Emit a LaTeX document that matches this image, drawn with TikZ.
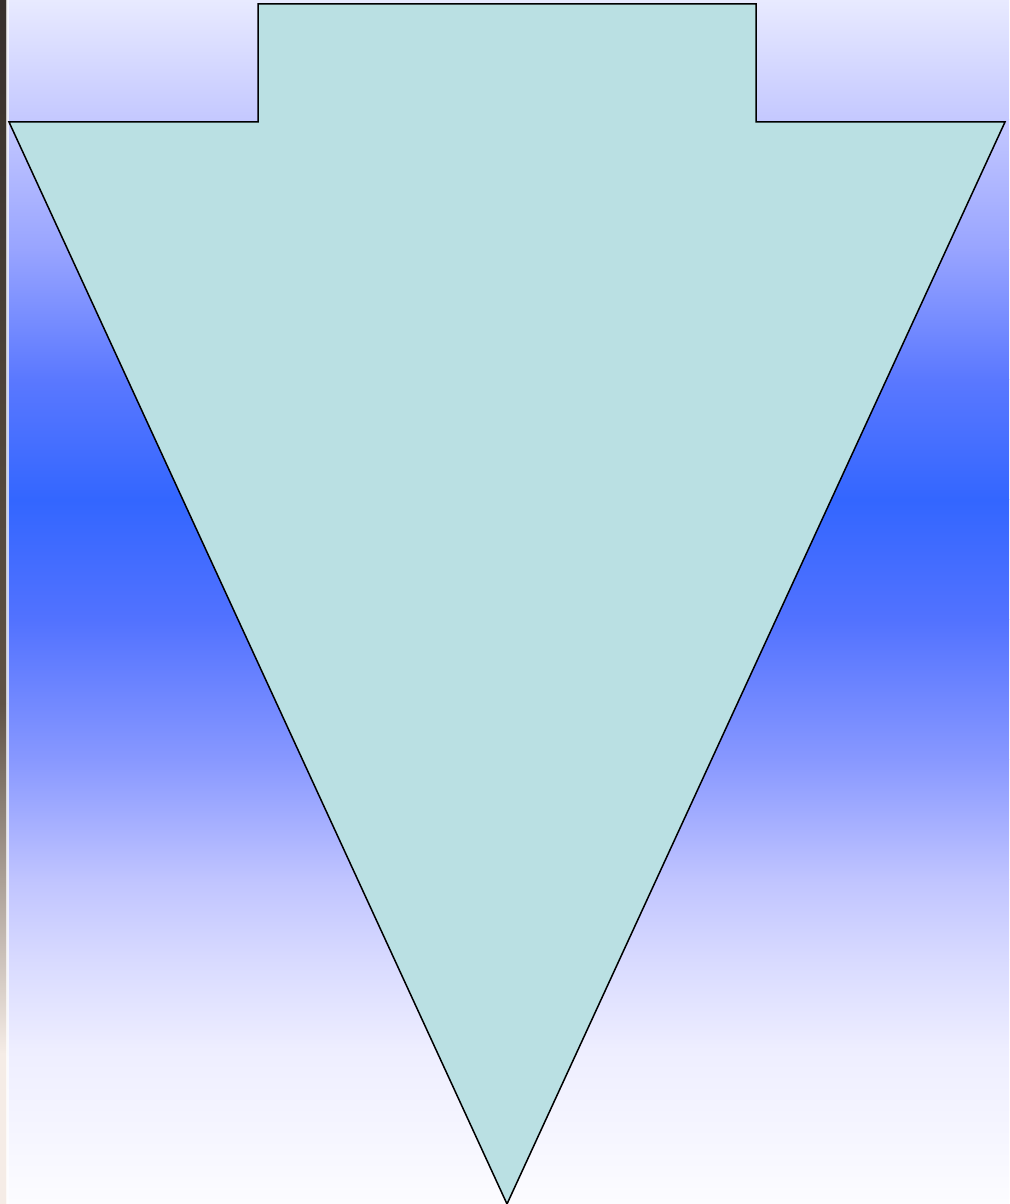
\documentclass[tikz,border=0pt]{standalone}
\usetikzlibrary{shadings}
\definecolor{bgA}{RGB}{232,234,255}
\definecolor{bgB}{RGB}{196,200,255}
\definecolor{bgC}{RGB}{152,164,255}
\definecolor{bgD}{RGB}{90,120,255}
\definecolor{bgE}{RGB}{51,102,255}
\definecolor{bgF}{RGB}{82,114,255}
\definecolor{bgG}{RGB}{136,152,255}
\definecolor{bgH}{RGB}{192,196,255}
\definecolor{bgI}{RGB}{216,218,255}
\definecolor{bgJ}{RGB}{238,238,255}
\definecolor{bgK}{RGB}{252,252,255}
\definecolor{arrowfill}{RGB}{186,224,227}
\definecolor{edgedark}{RGB}{55,48,44}
\definecolor{edgemid}{RGB}{95,82,70}
\definecolor{edgelight}{RGB}{245,236,230}
\tikzset{
  arrowshape/.style={fill=arrowfill, draw=black, line width=1.5pt, line join=miter}
}
\begin{document}
\begin{tikzpicture}[x=1pt,y=1pt]
\useasboundingbox (0,0) rectangle (1009,1204);
% background gradient (reference y measured from top)
\shade[top color=bgA, bottom color=bgB] (0,1204) rectangle (1009,1084);
\shade[top color=bgB, bottom color=bgC] (0,1084.5) rectangle (1009,954);
\shade[top color=bgC, bottom color=bgD] (0,954.5) rectangle (1009,824);
\shade[top color=bgD, bottom color=bgE] (0,824.5) rectangle (1009,704);
\shade[top color=bgE, bottom color=bgF] (0,704.5) rectangle (1009,584);
\shade[top color=bgF, bottom color=bgG] (0,584.5) rectangle (1009,444);
\shade[top color=bgG, bottom color=bgH] (0,444.5) rectangle (1009,324);
\shade[top color=bgH, bottom color=bgI] (0,324.5) rectangle (1009,244);
\shade[top color=bgI, bottom color=bgJ] (0,244.5) rectangle (1009,154);
\shade[top color=bgJ, bottom color=bgK] (0,154.5) rectangle (1009,0);
% left photo-like edge
\shade[top color=edgedark, bottom color=edgemid] (0,1204) rectangle (7,500);
\shade[top color=edgemid, bottom color=edgelight] (0,500.5) rectangle (7,150);
\fill[edgelight] (0,150.5) rectangle (7,0);
\fill[white, opacity=0.7] (6,1204) rectangle (8.5,0);
% arrow shape
\coordinate (tl) at (258,1200);
\coordinate (tr) at (756,1200);
\coordinate (sr) at (756,1082);
\coordinate (wr) at (1005,1082);
\coordinate (tip) at (507,0);
\coordinate (wl) at (9,1082);
\coordinate (sl) at (258,1082);
\draw[arrowshape] (tl) -- (tr) -- (sr) -- (wr) -- (tip) -- (wl) -- (sl) -- cycle;
\end{tikzpicture}
\end{document}
